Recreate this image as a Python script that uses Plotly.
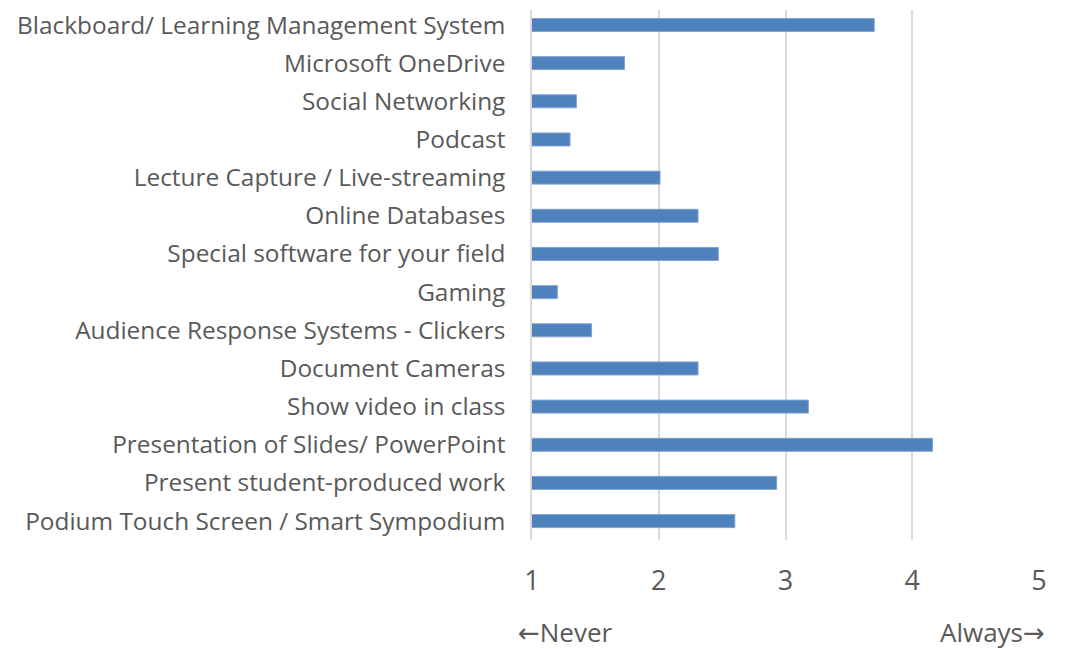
import plotly.graph_objects as go

categories = [
    "Blackboard/ Learning Management System",
    "Microsoft OneDrive",
    "Social Networking",
    "Podcast",
    "Lecture Capture / Live-streaming",
    "Online Databases",
    "Special software for your field",
    "Gaming",
    "Audience Response Systems - Clickers",
    "Document Cameras",
    "Show video in class",
    "Presentation of Slides/ PowerPoint",
    "Present student-produced work",
    "Podium Touch Screen / Smart Sympodium",
]
values = [3.70, 1.73, 1.35, 1.30, 2.01, 2.31, 2.47, 1.20, 1.47, 2.31, 3.18, 4.16, 2.93, 2.60]
tick_vals = [1, 2, 3, 4, 5]

fig = go.Figure(go.Bar(
    x=values, y=categories, orientation="h",
    marker=dict(color="#4F81BD", line=dict(color="#7EA1CF", width=1)),
))

arrow = "<span style='font-family:DejaVu Sans'>{}</span>"

fig.update_layout(
    width=1066, height=649,
    margin=dict(l=524, r=35, t=0, b=117),
    paper_bgcolor="white", plot_bgcolor="white",
    font=dict(family="Open Sans", color="#595959", size=24),
    bargap=0.66,
    showlegend=False,
    xaxis=dict(range=[1, 5], tickvals=tick_vals, showgrid=True, gridcolor="#D9D9D9",
               gridwidth=1.5, zeroline=False, showline=False,
               tickfont=dict(size=27), ticks="", ticklabelstandoff=22),
    yaxis=dict(range=[13.495, -0.392], showgrid=False, zeroline=False, ticks="",
               showline=True, linecolor="#D9D9D9", linewidth=1.5,
               tickfont=dict(size=24.4), ticklabelstandoff=20),
    annotations=[
        dict(text=arrow.format("←") + "Never", xref="paper", yref="paper", x=-0.032, y=-0.173,
             xanchor="left", yanchor="middle", showarrow=False, font=dict(size=26)),
        dict(text="Always" + arrow.format("→"), xref="paper", yref="paper", x=1.016, y=-0.173,
             xanchor="right", yanchor="middle", showarrow=False, font=dict(size=26)),
    ],
)

fig.write_html("out.html")
